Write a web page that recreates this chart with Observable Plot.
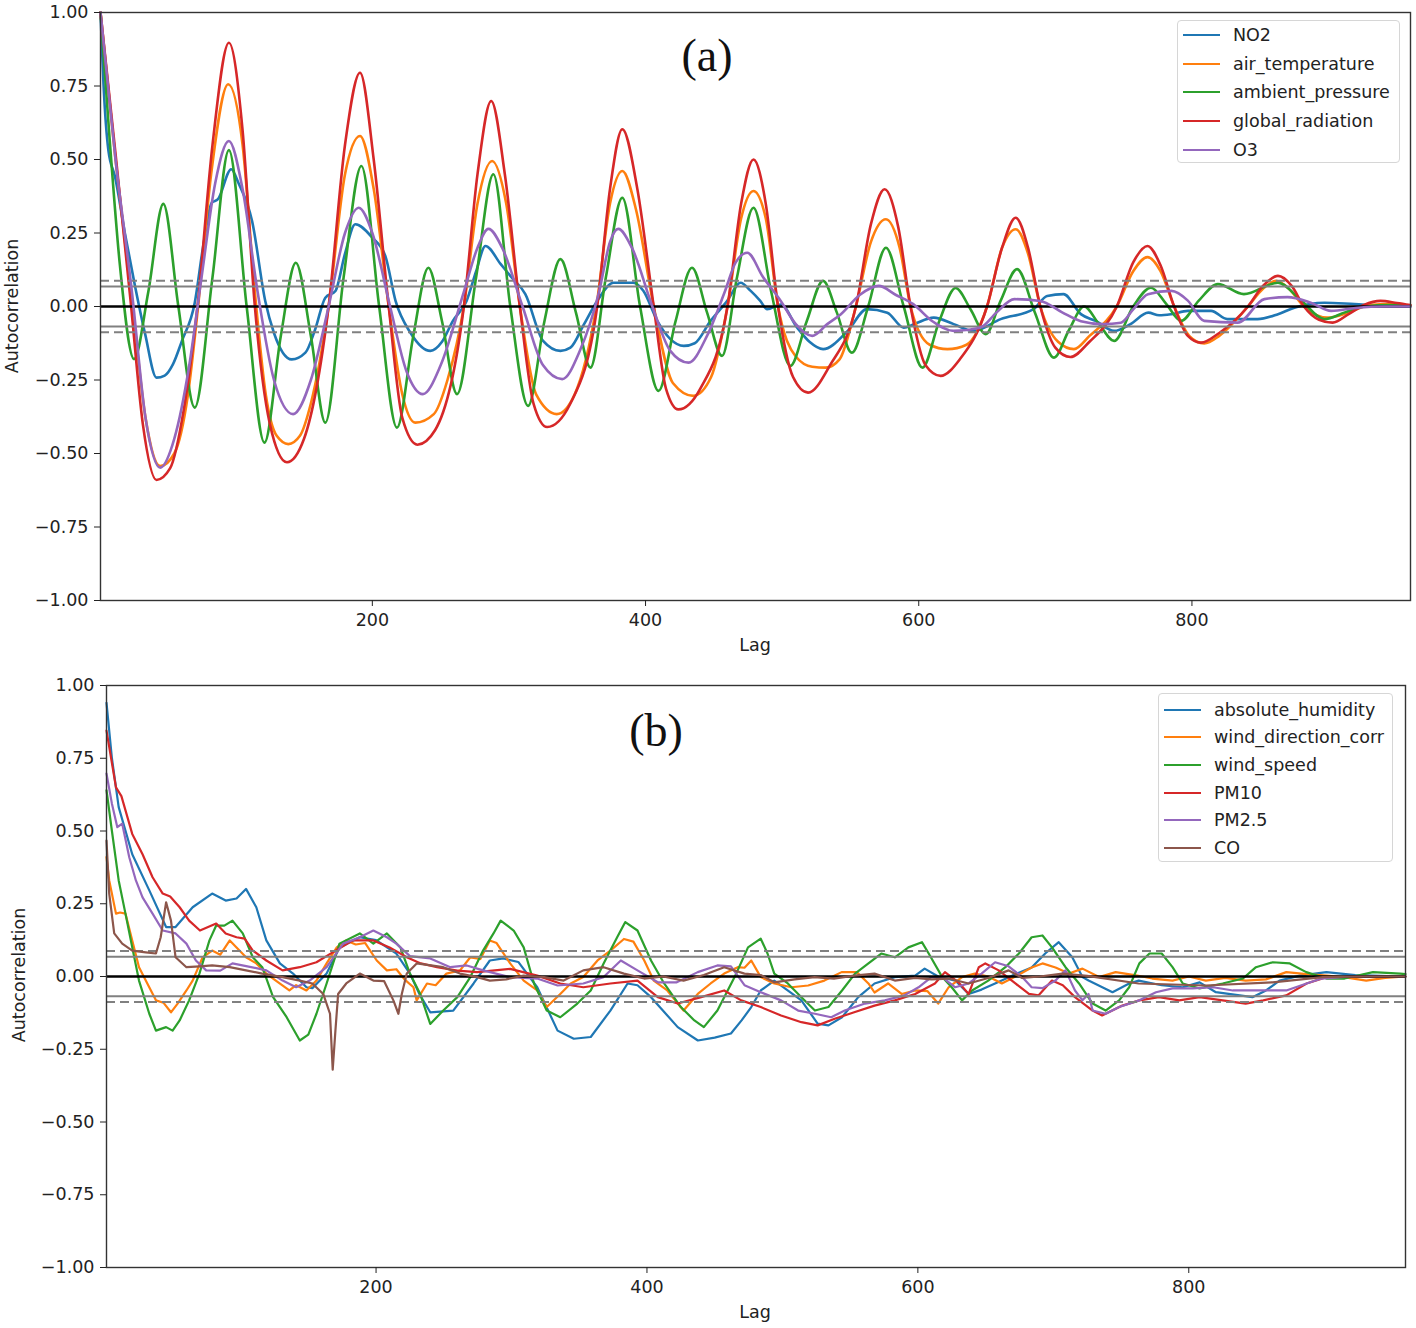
<!DOCTYPE html>
<html><head><meta charset="utf-8">
<script src="https://cdn.jsdelivr.net/npm/d3@7"></script>
<script src="https://cdn.jsdelivr.net/npm/@observablehq/plot@0.6"></script>
<style>
body{margin:0;background:#fff;}
#fig{position:relative;width:1416px;height:1328px;font-family:"DejaVu Sans",sans-serif;color:#222;overflow:hidden;}
.panel{position:absolute;left:0;width:1416px;height:664px;}
.legend{position:absolute;background:#fff;border:1.5px solid #d6d6d6;border-radius:4px;box-sizing:border-box;font-size:17.5px;}
.row{position:relative;display:flex;align-items:center;}
.sw{position:absolute;left:5px;width:37px;height:0;border-top:2.5px solid;}
.lt{position:absolute;left:55px;white-space:nowrap;}
.tag{position:absolute;font-family:"Liberation Serif","Times New Roman",serif;font-size:46px;color:#111;transform:translate(-50%,-50%);}
.xl{position:absolute;font-size:17.5px;transform:translate(-50%,-50%);}
.yl{position:absolute;font-size:17.5px;transform:translate(-50%,-50%) rotate(-90deg);white-space:nowrap;}
</style></head>
<body><div id="fig"></div>
<script>
// ---------- data ----------
const lagTicks = [200, 400, 600, 800];
const acfTicks = [-1, -0.75, -0.5, -0.25, 0, 0.25, 0.5, 0.75, 1];
const ci95 = 0.068, ci99 = 0.088;
const namesA = ["NO2", "air_temperature", "ambient_pressure", "global_radiation", "O3"];
const namesB = ["absolute_humidity", "wind_direction_corr", "wind_speed", "PM10", "PM2.5", "CO"];
const colorsA = ["#1f77b4", "#ff7f0e", "#2ca02c", "#d62728", "#9467bd"];
const colorsB = ["#1f77b4", "#ff7f0e", "#2ca02c", "#d62728", "#9467bd", "#8c564b"];

// panel (a)
const no2 = [[1,1.0],[3.2,0.756],[6.8,0.53],[11.7,0.44],[19,0.246],[26,0.076],[33.7,-0.094],[42,-0.242],[48,-0.235],[54,-0.197],[60.6,-0.117],[70,0.013],[76,0.2],[82.5,0.353],[87,0.365],[96.7,0.467],[102,0.42],[112,0.29],[121.6,0.019],[128,-0.09],[141,-0.18],[151,-0.157],[158,-0.08],[165.6,0.03],[173,0.053],[180,0.18],[187.5,0.28],[200,0.234],[209.5,0.172],[217,0.019],[228,-0.09],[242.5,-0.151],[251,-0.12],[259,-0.049],[269,0.019],[276,0.12],[282.8,0.206],[294,0.144],[301,0.104],[312,0.042],[325,-0.117],[337.7,-0.151],[345,-0.14],[355,-0.06],[364.6,0.019],[376.6,0.081],[391,0.081],[398.5,0.053],[408.6,-0.049],[418,-0.11],[428,-0.134],[436,-0.125],[447.6,-0.049],[459.8,0.019],[469.6,0.081],[477,0.053],[484,0.019],[489,-0.009],[499,0.007],[511,-0.072],[520,-0.12],[530,-0.145],[548,-0.083],[562,-0.009],[577,-0.021],[589,-0.072],[596.6,-0.06],[611,-0.038],[625.6,-0.06],[640,-0.083],[660,-0.043],[684,-0.009],[694,0.036],[706,0.042],[718.7,-0.026],[730,-0.05],[743,-0.083],[755,-0.06],[768,-0.021],[776,-0.03],[785,-0.026],[797,-0.015],[814,-0.015],[826,-0.043],[848,-0.043],[863,-0.026],[875,-0.004],[897,0.013],[919,0.008],[940,0.003],[960,0.0]];
const airTemperature = [[1,1.0],[12,0.5],[24,0.02],[34,-0.38],[44.7,-0.543],[55,-0.5],[65,-0.3],[72,-0.02],[82,0.45],[94.5,0.756],[105,0.55],[114,0.05],[122,-0.3],[130,-0.44],[138.5,-0.468],[147,-0.44],[155,-0.33],[168,0.0],[180,0.45],[191,0.58],[201,0.4],[212,0.0],[222,-0.3],[231.5,-0.395],[245,-0.366],[255,-0.25],[267,0.0],[277,0.35],[287.7,0.495],[298,0.35],[308,0.0],[320,-0.3],[335,-0.366],[348,-0.3],[364,0.0],[374,0.35],[383,0.461],[393,0.33],[406,0.0],[420,-0.26],[435,-0.304],[448,-0.24],[460,0.0],[470,0.3],[479,0.393],[488,0.3],[497,0.0],[510,-0.17],[522,-0.205],[532,-0.208],[542,-0.18],[554,0.0],[565,0.22],[576,0.297],[586,0.2],[594,0.0],[608,-0.13],[621,-0.145],[635,-0.13],[650,0.0],[661,0.2],[671,0.263],[680,0.18],[689,0.0],[702,-0.12],[713.6,-0.145],[725,-0.1],[745,0.0],[757,0.12],[767.5,0.168],[777,0.12],[787,0.0],[798,-0.1],[809,-0.126],[820,-0.1],[841,0.0],[852,0.06],[861.5,0.087],[871,0.06],[882,0.0],[899,-0.038],[915,-0.02],[930,0.005],[945,0.008],[960,0.002]];
const ambientPressure = [[1,1.0],[8,0.55],[15,0.15],[25.6,-0.179],[36,0.05],[47,0.349],[58,0.0],[70,-0.344],[83,0.1],[95,0.532],[108,0.0],[121,-0.463],[133,-0.1],[144,0.149],[155,-0.1],[165.6,-0.395],[179,0.1],[192,0.478],[205,0.0],[218,-0.412],[230,-0.1],[241,0.132],[251,-0.05],[262,-0.298],[276,0.1],[288.6,0.45],[301,0.0],[314,-0.338],[326,-0.05],[337.7,0.161],[349,-0.02],[359.7,-0.208],[371,0.1],[383,0.37],[396,0.0],[409.5,-0.287],[422,-0.05],[434,0.132],[445,-0.02],[456,-0.168],[467,0.1],[479,0.336],[492,0.05],[506,-0.202],[518,-0.05],[530,0.087],[540,-0.02],[551,-0.157],[563,0.0],[576,0.2],[589,0.0],[602.7,-0.208],[615,-0.05],[627,0.063],[638,-0.01],[649,-0.094],[660,0.02],[672,0.127],[685,-0.02],[699,-0.174],[710,-0.08],[721,0.0],[732,-0.06],[743,-0.117],[757,0.0],[770,0.064],[781,0.01],[792,-0.049],[805,0.02],[819,0.076],[838,0.042],[863,0.081],[880,0.02],[897,-0.043],[912,-0.02],[926,0.0],[945,0.005],[960,0.002]];
const globalRadiation = [[1,1.0],[12,0.52],[23,0.02],[32,-0.4],[42,-0.59],[52,-0.55],[62,-0.35],[72,0.0],[83,0.55],[95,0.897],[105,0.6],[114,0.0],[125,-0.4],[137.5,-0.53],[150,-0.45],[168,0.0],[180,0.55],[191,0.795],[201,0.5],[212,0.0],[222,-0.38],[233,-0.47],[246,-0.42],[267,0.0],[277,0.45],[287,0.699],[297,0.45],[308,0.0],[318,-0.33],[328,-0.41],[345,-0.33],[364.6,0.0],[374,0.4],[383,0.603],[394,0.4],[406,0.0],[415,-0.28],[424,-0.35],[440,-0.28],[460,0.0],[470,0.35],[479,0.5],[488,0.35],[497,0.0],[508,-0.24],[519,-0.293],[535,-0.2],[554,0.0],[565,0.28],[575,0.399],[585,0.27],[594,0.0],[605,-0.2],[616,-0.236],[630,-0.18],[650,0.0],[661,0.2],[671,0.302],[680,0.2],[689,0.0],[700,-0.14],[711,-0.172],[725,-0.12],[745,0.0],[757,0.15],[767.5,0.206],[777,0.14],[787,0.0],[797,-0.1],[806.6,-0.123],[820,-0.09],[841,0.0],[852,0.07],[863,0.104],[873,0.07],[882,0.0],[893,-0.045],[903,-0.055],[915,-0.025],[926,0.005],[938,0.019],[950,0.012],[960,0.005]];
const o3 = [[1,1.0],[12,0.5],[24,0.05],[34,-0.38],[44.7,-0.548],[55,-0.45],[66,-0.2],[75,0.1],[85,0.42],[95,0.563],[105,0.4],[116,0.05],[128,-0.25],[142,-0.366],[155,-0.25],[168,0.0],[180,0.25],[190,0.336],[200,0.25],[213,0.0],[225,-0.22],[237,-0.298],[250,-0.2],[267,0.05],[277,0.2],[285,0.264],[295,0.2],[310,0.0],[325,-0.2],[339,-0.247],[352,-0.15],[366,0.05],[374,0.22],[380,0.264],[390,0.2],[405,0.0],[418,-0.15],[431.5,-0.191],[445,-0.1],[458,0.05],[466,0.15],[474.5,0.183],[486,0.1],[499,0.019],[510,-0.06],[522,-0.1],[533,-0.06],[543,-0.026],[557,0.04],[570.7,0.07],[583,0.04],[596,0.008],[610,-0.05],[625.6,-0.083],[645,-0.072],[657,-0.02],[670,0.025],[689,0.019],[705,-0.02],[718.7,-0.05],[735,-0.06],[748,-0.055],[757,-0.01],[767.8,0.042],[785,0.053],[797,0.02],[809,-0.049],[833.5,-0.055],[853,0.025],[870,0.032],[887,0.013],[902,-0.015],[920,-0.005],[940,0.0],[960,0.0]];

// panel (b)
const absoluteHumidity = [[1,0.94],[5,0.75],[10,0.582],[20,0.42],[32.6,0.296],[45,0.17],[52,0.17],[64.6,0.238],[79,0.285],[89,0.261],[97,0.268],[104,0.301],[111.6,0.238],[119,0.124],[129,0.045],[138.7,0.01],[148.6,-0.037],[153,-0.04],[163.5,0.01],[173,0.1],[188,0.135],[200,0.125],[215,0.079],[225,0.01],[232,-0.06],[240,-0.123],[257,-0.117],[272,-0.024],[284,0.055],[294,0.062],[305,0.05],[319,-0.037],[334,-0.186],[346,-0.214],[358.5,-0.208],[373,-0.117],[385.7,-0.024],[393,-0.03],[403,-0.071],[422.7,-0.174],[437.6,-0.22],[450,-0.21],[462,-0.196],[470,-0.15],[477,-0.105],[484,-0.048],[494,-0.014],[514,-0.082],[526,-0.162],[534,-0.168],[544,-0.14],[556,-0.071],[568,-0.024],[583,-0.002],[598,0.003],[605,0.027],[615,0.0],[627.6,-0.014],[637.5,-0.06],[647,-0.045],[657,-0.024],[669.6,0.003],[684,0.031],[694,0.079],[704,0.118],[714,0.066],[721.5,-0.002],[726,-0.014],[743.7,-0.054],[756,-0.024],[763,-0.014],[780,-0.03],[795.5,-0.037],[808,-0.02],[820,-0.054],[837.6,-0.065],[847,-0.071],[857,-0.048],[867,-0.014],[882,0.003],[901.6,0.015],[923,0.005],[960,0.0]];
const windDirectionCorr = [[1,0.41],[3,0.33],[8,0.216],[11,0.22],[15,0.216],[20,0.124],[25,0.032],[30,-0.014],[37.5,-0.082],[43,-0.09],[48.6,-0.123],[53.5,-0.093],[60,-0.048],[64.6,-0.014],[72,0.066],[79,0.089],[85,0.075],[92,0.124],[97,0.1],[104,0.066],[111.6,0.045],[119,0.01],[126,-0.014],[136,-0.048],[141,-0.03],[148.6,-0.048],[156,-0.014],[163.5,0.045],[171,0.1],[178,0.124],[185,0.11],[192,0.115],[200.5,0.055],[208,0.021],[215,0.025],[221,-0.01],[227.6,-0.037],[230,-0.082],[237.6,-0.024],[244,-0.03],[252,0.01],[262,0.021],[269.6,0.066],[277,0.06],[284,0.124],[289,0.115],[299,0.045],[309,-0.014],[319,-0.048],[326,-0.105],[336,-0.06],[343.7,-0.024],[353,-0.002],[363.5,0.055],[373,0.089],[383,0.129],[390,0.12],[398,0.055],[405,-0.014],[415,-0.048],[427,-0.117],[437.5,-0.06],[447,-0.024],[457,0.01],[467,0.032],[472,0.03],[477,0.055],[484,-0.002],[494,-0.024],[506.7,-0.037],[519,-0.031],[531,-0.014],[543.7,0.015],[555,0.015],[563.5,-0.024],[568,-0.055],[578,-0.024],[588,-0.06],[598,-0.048],[607,-0.05],[615,-0.093],[622.7,-0.037],[632.6,-0.002],[642,0.01],[652,0.0],[662,-0.024],[672,0.0],[684,0.031],[692,0.045],[701.6,0.031],[711.6,0.01],[721.5,0.027],[733.8,-0.002],[746,0.015],[760,0.005],[773,-0.007],[788,-0.014],[800,0.0],[812.6,-0.014],[827,-0.005],[842,-0.014],[857,-0.01],[872,0.015],[887,0.008],[901.6,0.003],[918,-0.005],[931,-0.014],[945,-0.005],[960,0.0]];
const windSpeed = [[1,0.64],[5,0.5],[10,0.33],[15,0.216],[20,0.1],[25,-0.014],[32.6,-0.128],[37.5,-0.186],[45,-0.174],[49.8,-0.186],[55,-0.151],[62,-0.082],[69.6,0.01],[77,0.124],[82,0.175],[88,0.175],[94,0.192],[101.6,0.148],[109,0.066],[116,0.032],[124,-0.071],[134,-0.14],[143.7,-0.22],[150,-0.2],[156,-0.128],[163.5,-0.024],[173,0.113],[188,0.148],[198,0.113],[208,0.148],[218,0.1],[225,0.01],[232.6,-0.06],[240,-0.163],[249.6,-0.117],[260,-0.071],[269.6,-0.002],[279,0.089],[286.7,0.148],[292,0.192],[301.6,0.158],[309,0.1],[316.6,-0.024],[326,-0.117],[336,-0.14],[348.6,-0.093],[358.5,-0.048],[368,0.045],[378,0.135],[384,0.187],[393,0.158],[403,0.055],[412.7,-0.024],[425,-0.105],[435,-0.151],[442,-0.174],[452,-0.117],[464.7,-0.002],[474.6,0.1],[484,0.13],[489,0.079],[494,0.01],[504,-0.024],[514,-0.071],[524,-0.117],[534,-0.105],[544,-0.048],[553.6,0.01],[563.5,0.045],[573,0.079],[583,0.066],[593,0.1],[603,0.118],[608,0.079],[618,-0.002],[625,-0.037],[632.6,-0.082],[640,-0.048],[652,-0.014],[664.6,0.032],[674.6,0.079],[684,0.135],[692,0.141],[699,0.1],[709,0.032],[719,-0.024],[729,-0.093],[738.6,-0.117],[748.6,-0.082],[756,-0.037],[763.5,0.045],[771,0.079],[780,0.079],[788,0.032],[795.6,-0.024],[808,-0.041],[825,-0.024],[840,-0.007],[849.6,0.032],[862,0.049],[874.6,0.045],[886.7,0.015],[901.6,-0.007],[915,-0.007],[936,0.015],[956,0.01],[960,0.008]];
const pm10 = [[1,0.845],[8,0.65],[12,0.62],[20,0.49],[27.6,0.42],[35,0.341],[42.5,0.285],[48,0.275],[55,0.238],[62,0.192],[70,0.158],[82,0.182],[89,0.148],[97,0.135],[103,0.13],[109,0.089],[119,0.055],[131,0.021],[143.7,0.032],[156,0.049],[168,0.083],[183,0.124],[198,0.124],[210,0.1],[222.7,0.066],[233,0.045],[245,0.032],[260,0.02],[274.6,0.015],[299,0.026],[319,0.003],[336,-0.024],[353,-0.037],[373,-0.024],[393,-0.014],[408,-0.071],[422.7,-0.093],[440,-0.071],[457,-0.048],[469.6,-0.082],[484,-0.105],[499,-0.134],[514,-0.157],[526,-0.168],[538.6,-0.145],[553,-0.123],[568,-0.1],[583,-0.082],[598,-0.06],[612.6,-0.024],[620,0.015],[630,-0.02],[637.5,-0.06],[645,0.032],[649.8,0.045],[659.7,0.021],[672,-0.024],[682,-0.06],[689,-0.065],[699,-0.014],[707,-0.03],[716,-0.071],[729,-0.117],[736,-0.134],[751,-0.1],[763.5,-0.082],[778,-0.071],[793,-0.082],[808,-0.071],[825,-0.082],[842,-0.093],[855,-0.082],[872,-0.065],[887,-0.024],[901.6,-0.002],[930,0.0],[960,0.0]];
const pm25 = [[1,0.697],[5,0.594],[9,0.513],[12.6,0.525],[17.8,0.41],[22.7,0.33],[27.6,0.272],[35,0.216],[42.5,0.158],[52,0.148],[60,0.113],[67,0.055],[74.6,0.021],[85,0.02],[94,0.045],[105,0.035],[119,0.021],[131,-0.014],[141,-0.037],[151,-0.014],[163.5,0.032],[175.7,0.113],[188,0.135],[198,0.158],[208,0.135],[215,0.113],[225,0.07],[240,0.062],[254.8,0.032],[267,0.038],[279,0.021],[299,-0.002],[319,-0.007],[334,-0.031],[353,-0.024],[368,-0.002],[380.7,0.055],[393,0.021],[408,-0.02],[422,-0.02],[437.5,0.015],[452,0.038],[462,0.035],[472,-0.03],[484,-0.054],[499,-0.082],[511.6,-0.117],[524,-0.128],[536,-0.14],[546,-0.117],[561,-0.093],[575.6,-0.082],[590,-0.065],[600.5,-0.037],[610,-0.002],[618,-0.002],[627.6,-0.037],[637.5,-0.024],[647,0.01],[657,0.049],[667,0.035],[677,-0.002],[684,-0.037],[692,-0.04],[701.6,-0.014],[709,0.021],[716,-0.048],[721.5,-0.082],[726,-0.06],[729,-0.117],[738.6,-0.128],[748.6,-0.105],[763.5,-0.082],[775.8,-0.054],[788,-0.041],[803,-0.041],[818,-0.037],[832.6,-0.048],[852,-0.048],[872,-0.048],[887,-0.024],[898,-0.007],[920,0.0],[960,0.0]];
const co = [[1,0.467],[3,0.285],[6.7,0.148],[12.6,0.113],[20,0.089],[30,0.083],[37.5,0.079],[41,0.135],[45,0.255],[48.6,0.192],[52,0.066],[60,0.032],[70,0.035],[79,0.038],[92,0.032],[104,0.021],[116,0.01],[131,-0.002],[143.7,-0.014],[153,-0.024],[161,-0.06],[166,-0.128],[168,-0.32],[170,-0.186],[172,-0.06],[178,-0.024],[188,0.01],[198,-0.014],[206,-0.016],[212.8,-0.082],[216.5,-0.128],[219,-0.06],[222.7,0.01],[230,0.045],[249.6,0.032],[262,0.01],[274.6,-0.002],[284,-0.014],[296,-0.01],[309,0.003],[324,-0.002],[338.5,-0.014],[353,0.021],[368,0.032],[383,0.01],[398,-0.007],[412,0.0],[427,-0.014],[442,0.005],[457,0.032],[472,0.01],[484,0.005],[494,-0.02],[509,-0.01],[523.7,-0.002],[538,-0.007],[553,0.003],[568,0.01],[583,-0.014],[598,-0.005],[610,-0.01],[622.7,-0.007],[637.5,-0.024],[652,-0.005],[667,0.021],[677,-0.005],[690,0.0],[706.7,0.01],[725,0.002],[763,-0.024],[812.6,-0.031],[862,-0.02],[899,-0.002],[930,0.0],[960,0.0]];

const seriesA = [no2, airTemperature, ambientPressure, globalRadiation, o3];
const seriesB = [absoluteHumidity, windDirectionCorr, windSpeed, pm10, pm25, co];

// ---------- drawing ----------
function tidy(names, series) {
  return names.flatMap((name, i) => series[i].map(([lag, acf]) => ({name, lag, acf})));
}

function panel(names, series, colors, m, curve, sw) {
  const data = tidy(names, series);
  const last = names[names.length - 1];
  return Plot.plot({
    width: 1416, height: 664,
    marginLeft: m.left, marginRight: m.right, marginTop: m.top, marginBottom: m.bottom,
    x: {domain: [1, 960]},
    y: {domain: [-1, 1]},
    color: {domain: names, range: colors},
    style: {fontSize: "17.5px", fontFamily: "DejaVu Sans, sans-serif", color: "#222", background: "transparent"},
    marks: [
      Plot.line(data.filter(d => d.name !== last), {x: "lag", y: "acf", z: "name", stroke: "name", strokeWidth: sw, curve}),
      Plot.ruleY([ci99, -ci99], {stroke: "#808080", strokeWidth: 2, strokeDasharray: "9,5"}),
      Plot.ruleY([ci95, -ci95], {stroke: "#808080", strokeWidth: 2}),
      Plot.ruleY([0], {stroke: "#000", strokeWidth: 2.6}),
      Plot.line(data.filter(d => d.name === last), {x: "lag", y: "acf", z: "name", stroke: "name", strokeWidth: sw, curve}),
      Plot.frame({stroke: "#333", strokeWidth: 1.4}),
      Plot.axisX({ticks: lagTicks, tickSize: 6, tickPadding: 7, label: null}),
      Plot.axisY({ticks: acfTicks, tickFormat: d3.format(".2f"), tickSize: 6, tickPadding: 6, label: null})
    ]
  });
}

const fig = document.getElementById("fig");
function addPanel(top, svg) {
  const d = document.createElement("div");
  d.className = "panel"; d.style.top = top + "px";
  d.appendChild(svg); fig.appendChild(d);
}
addPanel(0, panel(namesA, seriesA, colorsA, {left: 100, right: 6, top: 12, bottom: 64}, "monotone-x", 2.6));
addPanel(664, panel(namesB, seriesB, colorsB, {left: 106, right: 11, top: 21, bottom: 61}, "linear", 2.2));

function addLegend(names, colors, box, rowH, padTop) {
  const lg = document.createElement("div");
  lg.className = "legend";
  Object.assign(lg.style, {left: box.x + "px", top: box.y + "px", width: box.w + "px", height: box.h + "px", paddingTop: padTop + "px"});
  names.forEach((n, i) => {
    const r = document.createElement("div");
    r.className = "row"; r.style.height = rowH + "px";
    const s = document.createElement("div"); s.className = "sw"; s.style.borderColor = colors[i];
    const t = document.createElement("div"); t.className = "lt"; t.textContent = n;
    r.appendChild(s); r.appendChild(t); lg.appendChild(r);
  });
  fig.appendChild(lg);
}
addLegend(namesA, colorsA, {x: 1177, y: 20, w: 223, h: 143}, 28.6, 0);
addLegend(namesB, colorsB, {x: 1158, y: 693, w: 235, h: 169}, 27.6, 2);

function addText(cls, txt, x, y) {
  const e = document.createElement("div");
  e.className = cls; e.textContent = txt;
  e.style.left = x + "px"; e.style.top = y + "px";
  fig.appendChild(e);
}
addText("tag", "(a)", 707, 55);
addText("tag", "(b)", 656, 730);
addText("xl", "Lag", 755, 645);
addText("xl", "Lag", 755, 1312);
addText("yl", "Autocorrelation", 12, 306);
addText("yl", "Autocorrelation", 19, 975);
</script></body></html>
